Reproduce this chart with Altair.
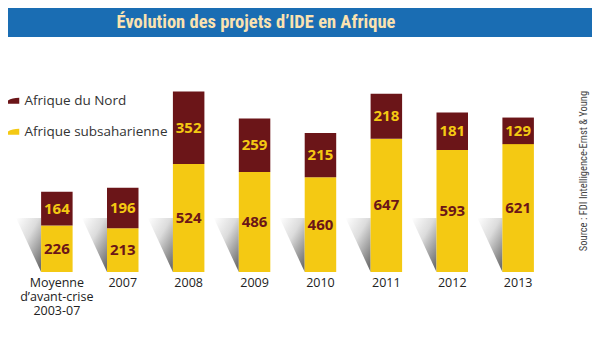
import altair as alt
import pandas as pd

categories = ["Moyenne|d’avant-crise|2003-07", "2007", "2008", "2009", "2010", "2011", "2012", "2013"]
nord = [164, 196, 352, 259, 215, 218, 181, 129]
subsaharienne = [226, 213, 524, 486, 460, 647, 593, 621]
series = ["Afrique du Nord", "Afrique subsaharienne"]
title_text = "Évolution des projets d’IDE en Afrique"
source_text = "Source : FDI Intelligence-Ernst & Young"

RED = "#6b1518"
YELLOW = "#f4c913"
BLUE = "#1a6db3"

rows = []
for c, n, s in zip(categories, nord, subsaharienne):
    rows.append({"cat": c, "serie": series[1], "v": s, "y0": 0, "y1": s})
    rows.append({"cat": c, "serie": series[0], "v": n, "y0": s, "y1": s + n})
df = pd.DataFrame(rows)
df["mid"] = (df["y0"] + df["y1"]) / 2

xenc = alt.X(
    "cat:N",
    sort=categories,
    scale=alt.Scale(paddingInner=0.522, paddingOuter=0.692, align=0.363),
    axis=alt.Axis(
        title=None, labelExpr="split(datum.label, '|')", domain=False, ticks=False,
        grid=False, labelAngle=0, labelFont="Open Sans", labelFontSize=12.5,
        labelColor="#222222", labelPadding=4, labelLineHeight=14,
        labelBaseline="top", labelOverlap=False, labelFlush=False,
    ),
)
yscale = alt.Scale(domain=[0, 1282], nice=False, zero=True)

base = alt.Chart(df)

shadow = base.transform_filter(alt.datum.serie == series[1]).mark_point(
    shape="M-1.509,-1 L-0.583,-1 L-0.583,1 Z",
    filled=True,
    size=2916,
    opacity=1,
    strokeWidth=0,
    fill=alt.Gradient(
        gradient="linear",
        stops=[
            alt.GradientStop(color="#ffffff", offset=0),
            alt.GradientStop(color="#dcdcdc", offset=0.45),
            alt.GradientStop(color="#707070", offset=1),
        ],
        x1=0, y1=0, x2=0.8, y2=1,
    ),
).encode(x=xenc, y=alt.value(237))

bars = base.mark_bar().encode(
    x=xenc,
    y=alt.Y("y0:Q", scale=yscale, axis=None),
    y2="y1:Q",
    color=alt.Color(
        "serie:N",
        scale=alt.Scale(domain=series, range=[RED, YELLOW]),
        legend=alt.Legend(
            title=None, orient="none", legendX=-2, legendY=86,
            symbolType="M-1,0.45 L-1,0.2 Q-0.4,-0.45 1,-0.45 L1,0.45 Z",
            symbolSize=169, symbolStrokeWidth=0, symbolOpacity=1,
            labelFont="Open Sans", labelFontSize=13.5, labelColor="#333333",
            rowPadding=16, labelOffset=5,
        ),
    ),
)

text_nord = base.transform_filter(alt.datum.serie == series[0]).mark_text(
    font="Open Sans", fontSize=15, fontWeight="bold", color=YELLOW, baseline="middle"
).encode(x=xenc, y=alt.Y("mid:Q", scale=yscale), text="v:Q")

text_sub = base.transform_filter(alt.datum.serie == series[1]).mark_text(
    font="Open Sans", fontSize=15, fontWeight="bold", color=RED, baseline="middle"
).encode(x=xenc, y=alt.Y("mid:Q", scale=yscale), text="v:Q")

tdf = pd.DataFrame({"t": [title_text]})
banner = alt.Chart(tdf).mark_rect(color=BLUE).encode(
    x=alt.value(0), x2=alt.value(584), y=alt.value(0), y2=alt.value(29)
)
title = alt.Chart(tdf).mark_text(
    font="Liberation Sans Narrow, Roboto Condensed, Open Sans Condensed, Roboto",
    fontSize=18.5, fontWeight="bold", color="#fbe2b0", align="center", baseline="middle",
).encode(x=alt.value(248), y=alt.value(14), text="t:N")

sdf = pd.DataFrame({"s": [source_text]})
source = alt.Chart(sdf).mark_text(
    font="Liberation Sans Narrow, Roboto Condensed, Open Sans", fontSize=10.5, color="#444444",
    angle=270, align="center", baseline="middle",
).encode(x=alt.value(576), y=alt.value(163), text="s:N")

chart = alt.layer(shadow, bars, text_nord, text_sub, banner, title, source).properties(
    width=584, height=264,
    autosize=alt.AutoSizeParams(type="none"),
    padding={"left": 0, "right": 0, "top": 0, "bottom": 80},
).configure(background="white").configure_view(stroke=None)

chart.save("out.html", embed_options={"renderer": "svg", "actions": False})
